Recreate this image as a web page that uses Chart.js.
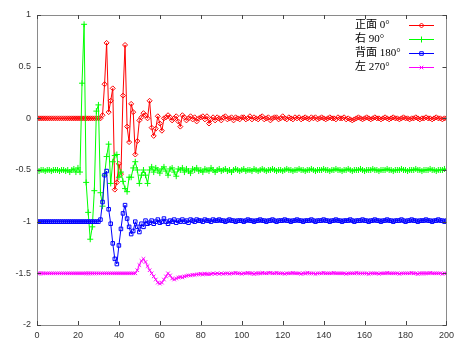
<!DOCTYPE html>
<html>
<head>
  <title>Directional response</title>
  <script src="https://cdn.jsdelivr.net/npm/chart.js"></script>
  <style>
    body { margin: 0; background: #fff; }
  </style>
</head>
<body>
  <canvas id="chart" width="459" height="342"></canvas>
  <script>
    // legend labels
    const seriesNames = ['正面 0°', '右 90°', '背面 180°', '左 270°'];

    // tick labels
    const xTicks = [0, 20, 40, 60, 80, 100, 120, 140, 160, 180, 200];
    const yTicks = [1, 0.5, 0, -0.5, -1, -1.5, -2];

    // one value per sample, sample 0..200
    const front0 = [
      0, 0, 0, 0, 0, 0, 0, 0, 0, 0,
      0, 0, 0, 0, 0, 0, 0, 0, 0, 0,
      0, 0, 0, 0, 0, 0, 0, 0, 0, 0,
      0, 0.00, 0.03, 0.33, 0.73, 0.06, 0.17, 0.29, -0.69, -0.62,
      -0.44, -0.54, 0.22, 0.71, -0.08, -0.23, 0.14, 0.06, -0.35, -0.22,
      -0.02, 0.01, 0.05, 0.03, 0.00, 0.17, -0.09, -0.17, -0.10, 0.02,
      -0.05, -0.12, 0.00, 0.01, 0.03, 0.01, -0.02, 0.00, 0.02, -0.03,
      -0.08, 0.03, 0.01, -0.02, 0.00, 0.02, -0.01, 0.01, -0.03, 0.00,
      0.01, 0.02, -0.01, 0.02, -0.05, -0.01, 0.01, -0.02, 0.01, 0.00,
      -0.02, 0.01, 0.02, -0.01, 0.00, 0.01, -0.02, 0.01, 0.00, -0.01,
      0.01, 0.01, -0.01, 0.00, 0.02, -0.01, 0.01, 0.00, -0.01, 0.01,
      0.02, -0.01, 0.00, 0.01, -0.02, 0.00, 0.01, 0.01, -0.01, 0.00,
      0.02, 0.00, -0.01, 0.01, 0.00, -0.01, 0.01, 0.00, 0.01, -0.01,
      0.00, 0.01, 0.00, -0.01, 0.01, 0.00, 0.01, -0.01, 0.00, 0.01,
      0.00, -0.01, 0.00, 0.01, 0.00, 0.00, -0.01, 0.01, 0.00, 0.00,
      0.01, -0.01, 0.00, -0.01, -0.02, -0.01, 0.00, 0.01, 0.00, -0.01,
      0.00, 0.01, 0.00, -0.01, 0.00, 0.01, 0.00, 0.00, -0.01, 0.00,
      0.01, 0.00, -0.01, 0.00, 0.01, 0.00, 0.00, -0.01, 0.00, 0.01,
      0.00, 0.00, -0.01, 0.00, 0.00, 0.01, 0.00, -0.01, 0.00, 0.00,
      0.01, 0.00, 0.00, -0.01, 0.00, 0.01, 0.00, 0.00, -0.01, 0.00,
      0.00
    ];
    const right90 = [
      -0.50, -0.51, -0.50, -0.50, -0.51, -0.50, -0.50, -0.51, -0.50, -0.50,
      -0.50, -0.51, -0.50, -0.50, -0.51, -0.50, -0.52, -0.50, -0.49, -0.52,
      -0.48, -0.52, 0.34, 0.91, -0.62, -0.91, -1.17, -1.05, -0.70, 0.07,
      0.13, -0.72, -0.85, -0.55, -0.37, -0.25, -0.63, -0.42, -0.36, -0.35,
      -0.57, -0.52, -0.61, -0.68, -0.71, -0.57, -0.57, -0.48, -0.42, -0.50,
      -0.63, -0.55, -0.50, -0.55, -0.63, -0.50, -0.47, -0.52, -0.48, -0.50,
      -0.53, -0.49, -0.47, -0.51, -0.55, -0.49, -0.48, -0.52, -0.56, -0.49,
      -0.50, -0.48, -0.52, -0.49, -0.51, -0.53, -0.49, -0.50, -0.48, -0.51,
      -0.50, -0.52, -0.49, -0.50, -0.51, -0.48, -0.50, -0.52, -0.50, -0.49,
      -0.51, -0.50, -0.49, -0.51, -0.50, -0.52, -0.50, -0.49, -0.50, -0.51,
      -0.50, -0.49, -0.51, -0.50, -0.50, -0.51, -0.49, -0.50, -0.51, -0.50,
      -0.49, -0.50, -0.51, -0.50, -0.50, -0.49, -0.50, -0.51, -0.50, -0.50,
      -0.51, -0.50, -0.49, -0.50, -0.50, -0.51, -0.50, -0.50, -0.49, -0.50,
      -0.50, -0.51, -0.50, -0.50, -0.49, -0.50, -0.51, -0.50, -0.50, -0.50,
      -0.49, -0.50, -0.50, -0.51, -0.50, -0.50, -0.49, -0.50, -0.50, -0.51,
      -0.50, -0.50, -0.49, -0.50, -0.51, -0.50, -0.50, -0.50, -0.49, -0.50,
      -0.51, -0.50, -0.50, -0.50, -0.49, -0.50, -0.50, -0.51, -0.50, -0.50,
      -0.50, -0.49, -0.50, -0.50, -0.51, -0.50, -0.50, -0.50, -0.49, -0.50,
      -0.50, -0.51, -0.50, -0.50, -0.50, -0.49, -0.50, -0.50, -0.51, -0.50,
      -0.50, -0.50, -0.49, -0.50, -0.50, -0.51, -0.50, -0.50, -0.50, -0.49,
      -0.50
    ];
    const back180 = [
      -1.00, -1.00, -1.00, -1.00, -1.00, -1.00, -1.00, -1.00, -1.00, -1.00,
      -1.00, -1.00, -1.00, -1.00, -1.00, -1.00, -1.00, -1.00, -1.00, -1.00,
      -1.00, -1.00, -1.00, -1.00, -1.00, -1.00, -1.00, -1.00, -1.00, -1.00,
      -1.00, -0.98, -0.81, -0.55, -0.51, -0.88, -1.02, -1.21, -1.36, -1.41,
      -1.23, -1.07, -0.92, -0.84, -0.97, -1.05, -1.12, -1.09, -1.00, -1.05,
      -1.10, -1.02, -1.05, -0.99, -1.02, -1.01, -0.99, -1.02, -1.00, -0.98,
      -1.01, -1.00, -0.97, -1.00, -1.02, -0.99, -1.00, -0.98, -1.01, -0.99,
      -1.00, -0.98, -1.00, -0.99, -1.01, -0.98, -0.99, -1.00, -0.98, -0.99,
      -0.99, -1.00, -0.98, -0.99, -0.99, -1.00, -0.98, -0.99, -0.99, -0.98,
      -0.99, -0.99, -1.00, -0.99, -0.98, -0.99, -0.99, -1.00, -0.99, -0.99,
      -0.99, -1.00, -0.99, -0.98, -0.99, -0.99, -1.00, -0.99, -0.99, -0.98,
      -0.99, -0.99, -1.00, -0.99, -0.99, -0.98, -0.99, -1.00, -0.99, -0.99,
      -0.99, -0.98, -0.99, -0.99, -1.00, -0.99, -0.99, -0.98, -0.99, -0.99,
      -1.00, -0.99, -0.99, -0.99, -0.98, -0.99, -1.00, -0.99, -0.99, -0.99,
      -0.98, -0.99, -0.99, -1.00, -0.99, -0.99, -0.98, -0.99, -0.99, -1.00,
      -0.99, -0.99, -0.99, -0.98, -0.99, -1.00, -0.99, -0.99, -0.99, -0.98,
      -0.99, -0.99, -1.00, -0.99, -0.99, -0.98, -0.99, -0.99, -1.00, -0.99,
      -0.99, -0.98, -0.99, -0.99, -1.00, -0.99, -0.99, -0.99, -0.98, -0.99,
      -1.00, -0.99, -0.99, -0.98, -0.99, -0.99, -1.00, -0.99, -0.99, -0.99,
      -0.98, -0.99, -0.99, -1.00, -0.99, -0.99, -0.98, -0.99, -0.99, -1.00,
      -0.99
    ];
    const left270 = [
      -1.50, -1.50, -1.50, -1.50, -1.50, -1.50, -1.50, -1.50, -1.50, -1.50,
      -1.50, -1.50, -1.50, -1.50, -1.50, -1.50, -1.50, -1.50, -1.50, -1.50,
      -1.50, -1.50, -1.50, -1.50, -1.50, -1.50, -1.50, -1.50, -1.50, -1.50,
      -1.50, -1.50, -1.50, -1.50, -1.50, -1.50, -1.50, -1.50, -1.50, -1.50,
      -1.50, -1.50, -1.50, -1.50, -1.50, -1.50, -1.50, -1.50, -1.50, -1.47,
      -1.42, -1.38, -1.36, -1.39, -1.43, -1.47, -1.50, -1.53, -1.56, -1.59,
      -1.60, -1.59, -1.56, -1.53, -1.50, -1.52, -1.55, -1.56, -1.55, -1.54,
      -1.535, -1.54, -1.53, -1.525, -1.52, -1.52, -1.515, -1.515, -1.51, -1.51,
      -1.505, -1.51, -1.505, -1.505, -1.51, -1.505, -1.50, -1.505, -1.50, -1.505,
      -1.50, -1.505, -1.50, -1.50, -1.505, -1.50, -1.50, -1.495, -1.50, -1.50,
      -1.505, -1.50, -1.50, -1.495, -1.50, -1.50, -1.505, -1.50, -1.50, -1.50,
      -1.495, -1.50, -1.50, -1.495, -1.495, -1.50, -1.50, -1.495, -1.50, -1.50,
      -1.50, -1.505, -1.50, -1.50, -1.50, -1.495, -1.50, -1.50, -1.50, -1.505,
      -1.50, -1.50, -1.495, -1.50, -1.50, -1.50, -1.505, -1.50, -1.50, -1.50,
      -1.495, -1.50, -1.50, -1.50, -1.50, -1.495, -1.50, -1.50, -1.50, -1.50,
      -1.50, -1.505, -1.50, -1.50, -1.50, -1.50, -1.495, -1.50, -1.50, -1.50,
      -1.50, -1.50, -1.505, -1.50, -1.50, -1.50, -1.50, -1.505, -1.50, -1.50,
      -1.50, -1.495, -1.50, -1.50, -1.50, -1.50, -1.50, -1.505, -1.50, -1.50,
      -1.50, -1.50, -1.50, -1.495, -1.50, -1.50, -1.505, -1.50, -1.50, -1.50,
      -1.50, -1.50, -1.495, -1.50, -1.50, -1.50, -1.50, -1.50, -1.505, -1.50,
      -1.50
    ];

    const colors = ['#ff0000', '#00ff00', '#0000ff', '#ff00ff'];
    const markers = ['rectRot', 'cross', 'rect', 'crossRot'];
    const radii = [2.5, 3, 2.5, 2.5];

    const toPoints = arr => arr.map((y, i) => ({ x: i, y: y }));
    const allSeries = [front0, right90, back180, left270];

    const datasets = allSeries.map((arr, i) => ({
      label: seriesNames[i],
      data: toPoints(arr),
      borderColor: colors[i],
      backgroundColor: 'rgba(0,0,0,0)',
      borderWidth: 1,
      pointStyle: markers[i],
      pointRadius: radii[i],
      pointBorderWidth: 1,
      pointBorderColor: colors[i],
      pointBackgroundColor: 'rgba(0,0,0,0)',
      tension: 0,
      order: 4 - i
    }));

    // frame and inward tick marks, gnuplot style
    const framePlugin = {
      id: 'frame',
      afterDatasetsDraw(chart) {
        const { ctx, chartArea: a, scales } = chart;
        ctx.save();
        ctx.strokeStyle = '#8a8a8a';
        ctx.lineWidth = 1;
        ctx.strokeRect(Math.round(a.left) + 0.5, Math.round(a.top) + 0.5,
          Math.round(a.right - a.left), Math.round(a.bottom - a.top));
        ctx.strokeStyle = '#444';
        ctx.beginPath();
        xTicks.forEach(v => {
          const px = Math.round(scales.x.getPixelForValue(v)) + 0.5;
          ctx.moveTo(px, a.bottom); ctx.lineTo(px, a.bottom - 4);
          ctx.moveTo(px, a.top); ctx.lineTo(px, a.top + 4);
        });
        yTicks.forEach(v => {
          const py = Math.round(scales.y.getPixelForValue(v)) + 0.5;
          ctx.moveTo(a.left, py); ctx.lineTo(a.left + 4, py);
          ctx.moveTo(a.right, py); ctx.lineTo(a.right - 4, py);
        });
        ctx.stroke();
        ctx.restore();
      }
    };

    // key in the top right: text first, then line sample
    const keyPlugin = {
      id: 'key',
      afterDraw(chart) {
        const ctx = chart.ctx;
        ctx.save();
        ctx.font = '11px "Liberation Serif", "Noto Sans CJK SC", serif';
        ctx.textBaseline = 'middle';
        ctx.textAlign = 'left';
        seriesNames.forEach((name, i) => {
          const y = 25 + i * 14;
          ctx.fillStyle = '#000';
          ctx.fillText(name, 355, y);
          ctx.strokeStyle = colors[i];
          ctx.lineWidth = 1;
          ctx.beginPath();
          ctx.moveTo(409, y + 0.5);
          ctx.lineTo(434, y + 0.5);
          ctx.stroke();
          ctx.fillStyle = 'rgba(0,0,0,0)';
          Chart.helpers.drawPoint(ctx, {
            pointStyle: markers[i], radius: radii[i], borderWidth: 1, rotation: 0
          }, 421.5, y + 0.5);
        });
        ctx.restore();
      }
    };

    const tickFont = { family: '"Liberation Sans", Arial, sans-serif', size: 9 };

    new Chart(document.getElementById('chart'), {
      type: 'line',
      data: { datasets: datasets },
      options: {
        responsive: false,
        animation: false,
        layout: { padding: { top: 15, right: 12, left: 0, bottom: 0 } },
        plugins: {
          legend: { display: false },
          tooltip: { enabled: false }
        },
        scales: {
          x: {
            type: 'linear',
            min: 0,
            max: 200,
            afterBuildTicks: s => { s.ticks = xTicks.map(v => ({ value: v })); },
            ticks: { font: tickFont, color: '#333', padding: 5, maxRotation: 0, autoSkip: false,
              callback: v => String(v) },
            grid: { display: false, drawTicks: false },
            border: { display: false },
            afterFit: s => { s.height = 17; }
          },
          y: {
            type: 'linear',
            min: -2,
            max: 1,
            afterBuildTicks: s => { s.ticks = yTicks.map(v => ({ value: v })); },
            ticks: { font: tickFont, color: '#333', padding: 6, autoSkip: false,
              callback: v => String(v) },
            grid: { display: false, drawTicks: false },
            border: { display: false },
            afterFit: s => { s.width = 37; }
          }
        }
      },
      plugins: [framePlugin, keyPlugin]
    });
  </script>
</body>
</html>
